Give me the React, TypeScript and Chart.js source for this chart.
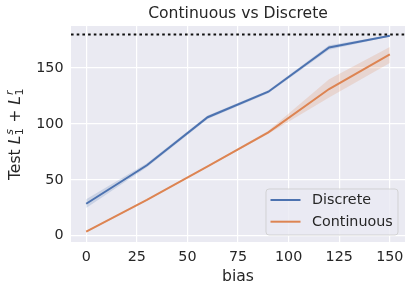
import React, { useEffect, useRef } from 'react';
import { Chart, registerables } from 'chart.js';

Chart.register(...registerables);

// ---- data ----
const bias = [0, 30, 60, 90, 120, 150];
const discreteMean = [28.6, 63, 106, 128.8, 168.4, 178.8];
const discreteLow = [24.8, 61.2, 104.5, 127.5, 166.4, 178.2];
const discreteHigh = [32.6, 64.8, 107.6, 130.2, 170.4, 179.4];
const continuousMean = [3.6, 32, 62, 92.5, 131.2, 162.3];
const continuousLow = [3.0, 31.4, 61.4, 91.2, 123.6, 154.5];
const continuousHigh = [4.2, 32.6, 62.6, 93.8, 140.0, 168.9];
const referenceLevel = 180;
const xTickValues = [0, 25, 50, 75, 100, 125, 150];
const yTickValues = [0, 50, 100, 150];
const xRange = [-7.5, 157.5];
const yRange = [-5.6, 187.6];
const titleText = 'Continuous vs Discrete';

const FONT = '"DejaVu Sans", sans-serif';
const TXT = '#262626';
const BLUE = '#4C72B0';
const ORANGE = '#DD8452';

const pts = (ys: number[]) => bias.map((x, i) => ({ x, y: ys[i] }));

const bgPlugin = {
  id: 'axesBg',
  beforeDraw(chart: any) {
    const { ctx, chartArea } = chart;
    ctx.save();
    ctx.fillStyle = '#EAEAF2';
    ctx.fillRect(chartArea.left, chartArea.top, chartArea.right - chartArea.left, chartArea.bottom - chartArea.top);
    ctx.restore();
  },
};

const titlePlugin = {
  id: 'axesTitle',
  afterDraw(chart: any) {
    const { ctx, chartArea } = chart;
    ctx.save();
    ctx.font = `15.6px ${FONT}`;
    ctx.fillStyle = TXT;
    ctx.textAlign = 'center';
    ctx.textBaseline = 'middle';
    ctx.fillText(titleText, (chartArea.left + chartArea.right) / 2, chartArea.top - 12.5);
    ctx.restore();
  },
};

const yLabelPlugin = {
  id: 'yLabelMath',
  afterDraw(chart: any) {
    const { ctx, chartArea } = chart;
    const big = 15.6;
    const small = 11;
    const normal = `${big}px ${FONT}`;
    const ital = `italic ${big}px ${FONT}`;
    const sItal = `italic ${small}px ${FONT}`;
    const sNorm = `${small}px ${FONT}`;
    type Piece = { t?: string; f?: string; sup?: [string, string]; sub?: [string, string] };
    const pieces: Piece[] = [
      { t: 'Test ', f: normal },
      { t: 'L', f: ital },
      { sup: ['s', sItal], sub: ['1', sNorm] },
      { t: ' + ', f: normal },
      { t: 'L', f: ital },
      { sup: ['r', sItal], sub: ['1', sNorm] },
    ];
    ctx.save();
    const widths = pieces.map((p) => {
      if (p.t) {
        ctx.font = p.f;
        return ctx.measureText(p.t).width;
      }
      ctx.font = p.sup![1];
      const a = ctx.measureText(p.sup![0]).width;
      ctx.font = p.sub![1];
      const b = ctx.measureText(p.sub![0]).width;
      return Math.max(a, b) + 1;
    });
    const total = widths.reduce((s, w) => s + w, 0);
    const cy = (chartArea.top + chartArea.bottom) / 2;
    ctx.translate(19.5, cy);
    ctx.rotate(-Math.PI / 2);
    ctx.fillStyle = TXT;
    ctx.textAlign = 'left';
    ctx.textBaseline = 'alphabetic';
    let x = -total / 2;
    pieces.forEach((p, i) => {
      if (p.t) {
        ctx.font = p.f;
        ctx.fillText(p.t, x, 0);
      } else {
        ctx.font = p.sup![1];
        ctx.fillText(p.sup![0], x + 1, -7);
        ctx.font = p.sub![1];
        ctx.fillText(p.sub![0], x + 0.5, 3);
      }
      x += widths[i];
    });
    ctx.restore();
  },
};

const legendPlugin = {
  id: 'boxLegend',
  afterDraw(chart: any) {
    const { ctx, chartArea } = chart;
    const items = [
      { label: 'Discrete', color: BLUE },
      { label: 'Continuous', color: ORANGE },
    ];
    const w = 132;
    const h = 46;
    const right = chartArea.right - 7;
    const bottom = chartArea.bottom - 7;
    const left = right - w;
    const top = bottom - h;
    ctx.save();
    ctx.beginPath();
    const r = 3;
    ctx.moveTo(left + r, top);
    ctx.arcTo(right, top, right, bottom, r);
    ctx.arcTo(right, bottom, left, bottom, r);
    ctx.arcTo(left, bottom, left, top, r);
    ctx.arcTo(left, top, right, top, r);
    ctx.closePath();
    ctx.fillStyle = 'rgba(234,234,242,0.8)';
    ctx.fill();
    ctx.strokeStyle = 'rgba(204,204,204,0.8)';
    ctx.lineWidth = 1;
    ctx.stroke();
    ctx.font = `14.3px ${FONT}`;
    ctx.textBaseline = 'middle';
    ctx.textAlign = 'left';
    items.forEach((it, i) => {
      const y = top + 11 + i * 21.7;
      ctx.beginPath();
      ctx.moveTo(left + 4.5, y);
      ctx.lineTo(left + 34.5, y);
      ctx.strokeStyle = it.color;
      ctx.lineWidth = 2;
      ctx.stroke();
      ctx.fillStyle = TXT;
      ctx.fillText(it.label, left + 46, y + 0.5);
    });
    ctx.restore();
  },
};

export default function App() {
  const ref = useRef<HTMLCanvasElement | null>(null);

  useEffect(() => {
    if (!ref.current) return;
    const band = (ys: number[], color: string, fill: any, order: number) => ({
      data: pts(ys),
      borderWidth: 0,
      borderColor: 'rgba(0,0,0,0)',
      backgroundColor: color,
      pointRadius: 0,
      fill,
      tension: 0,
      order,
    });
    const chart = new Chart(ref.current, {
      type: 'line',
      data: {
        datasets: [
          { label: 'Discrete', data: pts(discreteMean), borderColor: BLUE, borderWidth: 2, pointRadius: 0, fill: false, tension: 0, order: 1 } as any,
          { label: 'Continuous', data: pts(continuousMean), borderColor: ORANGE, borderWidth: 2, pointRadius: 0, fill: false, tension: 0, order: 1 } as any,
          band(discreteHigh, 'rgba(76,114,176,0.2)', false, 2),
          band(discreteLow, 'rgba(76,114,176,0.2)', '-1', 2),
          band(continuousHigh, 'rgba(221,132,82,0.2)', false, 2),
          band(continuousLow, 'rgba(221,132,82,0.2)', '-1', 2),
          {
            label: 'ref',
            data: [
              { x: xRange[0], y: referenceLevel },
              { x: xRange[1], y: referenceLevel },
            ],
            borderColor: '#111111',
            borderWidth: 2,
            borderDash: [2.6, 3.1],
            pointRadius: 0,
            fill: false,
            order: 0,
          } as any,
        ],
      },
      options: {
        animation: false,
        responsive: false,
        events: [],
        layout: { padding: { left: 0, right: 6, top: 26, bottom: 0 } },
        plugins: {
          legend: { display: false },
          tooltip: { enabled: false },
          title: { display: false },
        },
        scales: {
          x: {
            type: 'linear',
            min: xRange[0],
            max: xRange[1],
            afterBuildTicks: (s: any) => {
              s.ticks = xTickValues.map((v) => ({ value: v }));
            },
            afterFit: (s: any) => {
              s.height = 50;
            },
            grid: { color: '#ffffff', lineWidth: 1.2, drawTicks: false },
            border: { display: false },
            ticks: { color: TXT, font: { family: FONT, size: 14.3 }, padding: 7, maxRotation: 0 },
            title: {
              display: true,
              text: 'bias',
              color: TXT,
              font: { family: FONT, size: 15.6, lineHeight: 1.2 },
              padding: { top: 0, bottom: 6 },
            },
          },
          y: {
            type: 'linear',
            min: yRange[0],
            max: yRange[1],
            afterBuildTicks: (s: any) => {
              s.ticks = yTickValues.map((v) => ({ value: v }));
            },
            afterFit: (s: any) => {
              s.width = 71;
            },
            grid: { color: '#ffffff', lineWidth: 1.2, drawTicks: false },
            border: { display: false },
            ticks: { color: TXT, font: { family: FONT, size: 14.3 }, padding: 7.5 },
          },
        },
      },
      plugins: [bgPlugin, titlePlugin, yLabelPlugin, legendPlugin],
    });
    return () => chart.destroy();
  }, []);

  return (
    <div style={{ position: 'absolute', left: 0, top: 0, width: 411, height: 292, background: '#fff' }}>
      <canvas ref={ref} width={411} height={292} style={{ width: 411, height: 292, display: 'block' }} />
    </div>
  );
}
